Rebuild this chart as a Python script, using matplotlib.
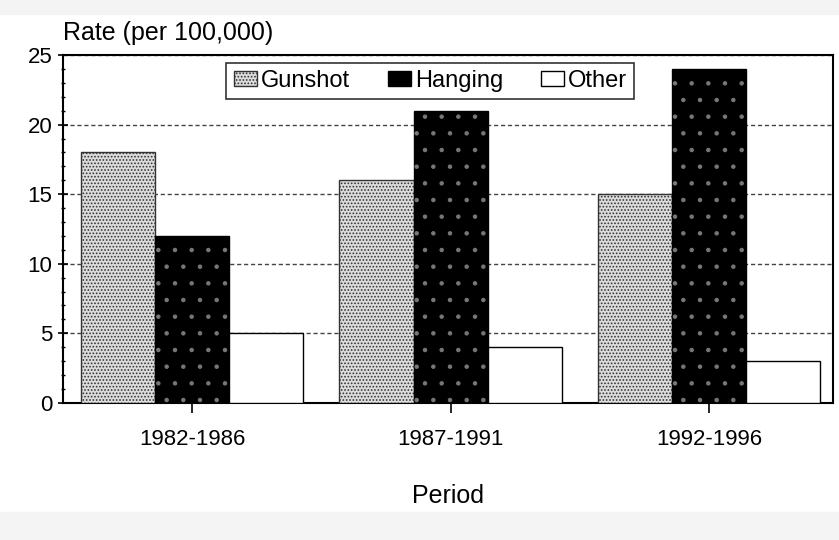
import numpy as np
import matplotlib
matplotlib.use("Agg")
import matplotlib.pyplot as plt
from matplotlib.patches import Rectangle, Patch
from matplotlib.ticker import MultipleLocator

plt.rcParams['font.family'] = ['Liberation Sans', 'DejaVu Sans']
plt.rcParams['hatch.linewidth'] = 0.8

periods = ['1982-1986', '1987-1991', '1992-1996']
gunshot = [18, 16, 15]
hanging = [12, 21, 24]
other = [5, 4, 3]

fig = plt.figure(figsize=(8.39, 5.4), dpi=100)
# light grey bands at the top and bottom of the scan
fig.patches.append(Rectangle((0, 1 - 14 / 540), 1, 14 / 540, transform=fig.transFigure,
                             color='#f4f4f4', zorder=-1))
fig.patches.append(Rectangle((0, 0), 1, 28 / 540, transform=fig.transFigure,
                             color='#f4f4f4', zorder=-1))
ax = fig.add_axes([0.075, 0.254, 0.918, 0.644])

x = np.arange(len(periods))
w = 0.287

ax.bar(x - w, gunshot, w, facecolor='#dcdcdc', edgecolor='#333333',
       hatch='.....', linewidth=1.0, zorder=3)
ax.bar(x, hanging, w, facecolor='black', edgecolor='black', linewidth=1.0, zorder=3)
ax.bar(x, hanging, w, facecolor='none', edgecolor='#777777', hatch='.',
       linewidth=0, zorder=4)
ax.bar(x + w, other, w, facecolor='white', edgecolor='black', linewidth=1.0, zorder=3)

ax.set_xlim(-0.5, 2.48)
ax.set_ylim(0, 25)
ax.set_xticks(x)
ax.set_xticklabels(periods, fontsize=16)
ax.set_yticks([0, 5, 10, 15, 20, 25])
ax.tick_params(axis='y', labelsize=16, length=7, width=1.2, direction='inout', pad=4)
ax.tick_params(axis='x', length=7, width=1.2, direction='out', pad=12)
ax.yaxis.set_minor_locator(MultipleLocator(1))
ax.tick_params(axis='y', which='minor', length=3, width=1, direction='inout')
ax.yaxis.grid(True, linestyle=(0, (3, 2)), color='#444444', linewidth=1.0, zorder=0)
for s in ax.spines.values():
    s.set_linewidth(1.5)

ax.set_xlabel('Period', fontsize=18, labelpad=24)
ax.text(0.0, 1.03, 'Rate (per 100,000)', transform=ax.transAxes,
        fontsize=18, ha='left', va='bottom')

handles = [Patch(facecolor='#dcdcdc', edgecolor='#333333', hatch='.....'),
           Patch(facecolor='black', edgecolor='black'),
           Patch(facecolor='white', edgecolor='black')]
leg = ax.legend(handles, ['Gunshot', 'Hanging', 'Other'], ncol=3,
                loc='upper center', bbox_to_anchor=(0.477, 0.985),
                fontsize=17, frameon=True, fancybox=False,
                handlelength=1.0, handleheight=0.6, handletextpad=0.15,
                columnspacing=1.6, borderpad=0.3, borderaxespad=0.1)
leg.get_frame().set_edgecolor('black')
leg.get_frame().set_linewidth(1.2)
leg.set_zorder(10)

plt.savefig('out.png', dpi=100)
